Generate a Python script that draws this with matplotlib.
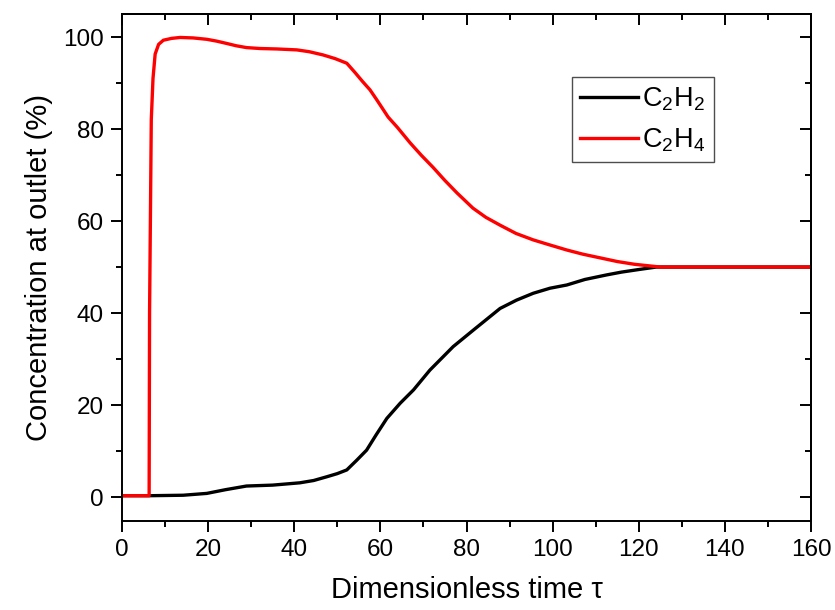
import matplotlib
matplotlib.use("Agg")
import matplotlib.pyplot as plt
from matplotlib.ticker import MultipleLocator

plt.rcParams['font.family'] = ['Liberation Sans', 'DejaVu Sans']
plt.rcParams['mathtext.fontset'] = 'custom'
plt.rcParams['mathtext.rm'] = 'Liberation Sans'
plt.rcParams['mathtext.it'] = 'Liberation Sans:italic'

# Data
tau_c2h4 = [0, 6.3, 6.4, 6.8, 7.2, 7.7, 8.5, 9.6, 11.5, 13.5, 16.5, 19.7, 22, 24.3, 26.5,
            28.9, 32, 36, 40.6, 43.5, 46.7, 49.5, 52.2, 54, 55.8, 57.6, 59.2, 61.8, 64,
            66.9, 69.5, 72.2, 75, 77.8, 81.5, 84.5, 87.8, 91.5, 95.5, 99, 103.3, 107,
            111, 115, 119, 122, 125, 130, 140, 150, 160]
c2h4 = [0.3, 0.3, 40, 82, 91, 96.3, 98.4, 99.3, 99.7, 99.9, 99.8, 99.5, 99.1, 98.6, 98.1,
        97.7, 97.5, 97.4, 97.2, 96.8, 96.1, 95.3, 94.3, 92.4, 90.4, 88.5, 86.3, 82.6, 80.3,
        77.0, 74.3, 71.7, 68.8, 66.1, 62.8, 60.8, 59.1, 57.3, 55.9, 54.9, 53.7, 52.8,
        52.0, 51.2, 50.6, 50.3, 50.0, 50, 50, 50, 50]

tau_c2h2 = [0, 6.5, 14.2, 19.7, 24, 28.9, 35, 41.3, 44.5, 47.5, 50, 52.2, 54.5, 56.8, 59,
            61.5, 64.6, 67.7, 71.5, 76.9, 81.6, 87.8, 91.6, 95.5, 99.4, 103.3, 107.5,
            112.6, 116, 120.3, 124.1, 130, 140, 150, 160]
c2h2 = [0.3, 0.3, 0.4, 0.8, 1.6, 2.4, 2.6, 3.1, 3.6, 4.4, 5.1, 5.9, 8.0, 10.2, 13.5,
        17.1, 20.4, 23.3, 27.6, 32.7, 36.3, 41.0, 42.8, 44.3, 45.4, 46.1, 47.3,
        48.3, 48.9, 49.5, 50.0, 50, 50, 50, 50]

labels = [r'C$_2$H$_2$', r'C$_2$H$_4$']
xticks = [0, 20, 40, 60, 80, 100, 120, 140, 160]
yticks = [0, 20, 40, 60, 80, 100]

fig = plt.figure(figsize=(8.35, 6.1), dpi=100)
ax = fig.add_axes([122/835, 1 - 521/610, (811-122)/835, (521-14)/610])

ax.plot(tau_c2h2, c2h2, color='black', lw=2.4, label=labels[0])
ax.plot(tau_c2h4, c2h4, color='#ff0000', lw=2.4, label=labels[1])

ax.set_xlim(0, 160)
ax.set_ylim(-5.2, 105)
ax.set_xticks(xticks)
ax.set_yticks(yticks)
ax.xaxis.set_minor_locator(MultipleLocator(10))
ax.yaxis.set_minor_locator(MultipleLocator(10))
ax.tick_params(which='major', direction='out', length=8, width=1.4, labelsize=17.5, pad=5)
ax.tick_params(which='minor', direction='out', length=4.5, width=1.4)

for s in ax.spines.values():
    s.set_linewidth(1.4)

top = ax.secondary_xaxis('top')
top.set_xticks(xticks)
top.xaxis.set_minor_locator(MultipleLocator(10))
top.tick_params(which='major', direction='in', length=8, width=1.4, labeltop=False)
top.tick_params(which='minor', direction='in', length=4.5, width=1.4)
top.spines['top'].set_linewidth(1.4)

right = ax.secondary_yaxis('right')
right.set_yticks(yticks)
right.yaxis.set_minor_locator(MultipleLocator(10))
right.tick_params(which='major', direction='in', length=8, width=1.4, labelright=False)
right.tick_params(which='minor', direction='in', length=4.5, width=1.4)
right.spines['right'].set_linewidth(1.4)

ax.set_xlabel('Dimensionless time τ', fontsize=21, labelpad=11)
ax.set_ylabel('Concentration at outlet (%)', fontsize=21, labelpad=7)

leg = ax.legend(loc='upper left', bbox_to_anchor=((572-122)/689, 1 - (77-14)/507),
                fontsize=19.5, frameon=True, fancybox=False, edgecolor='#222222',
                handlelength=2.15, handletextpad=0.15, borderpad=0.3, labelspacing=0.5,
                borderaxespad=0)
leg.get_frame().set_linewidth(1.0)

fig.savefig('out.png', dpi=100)
